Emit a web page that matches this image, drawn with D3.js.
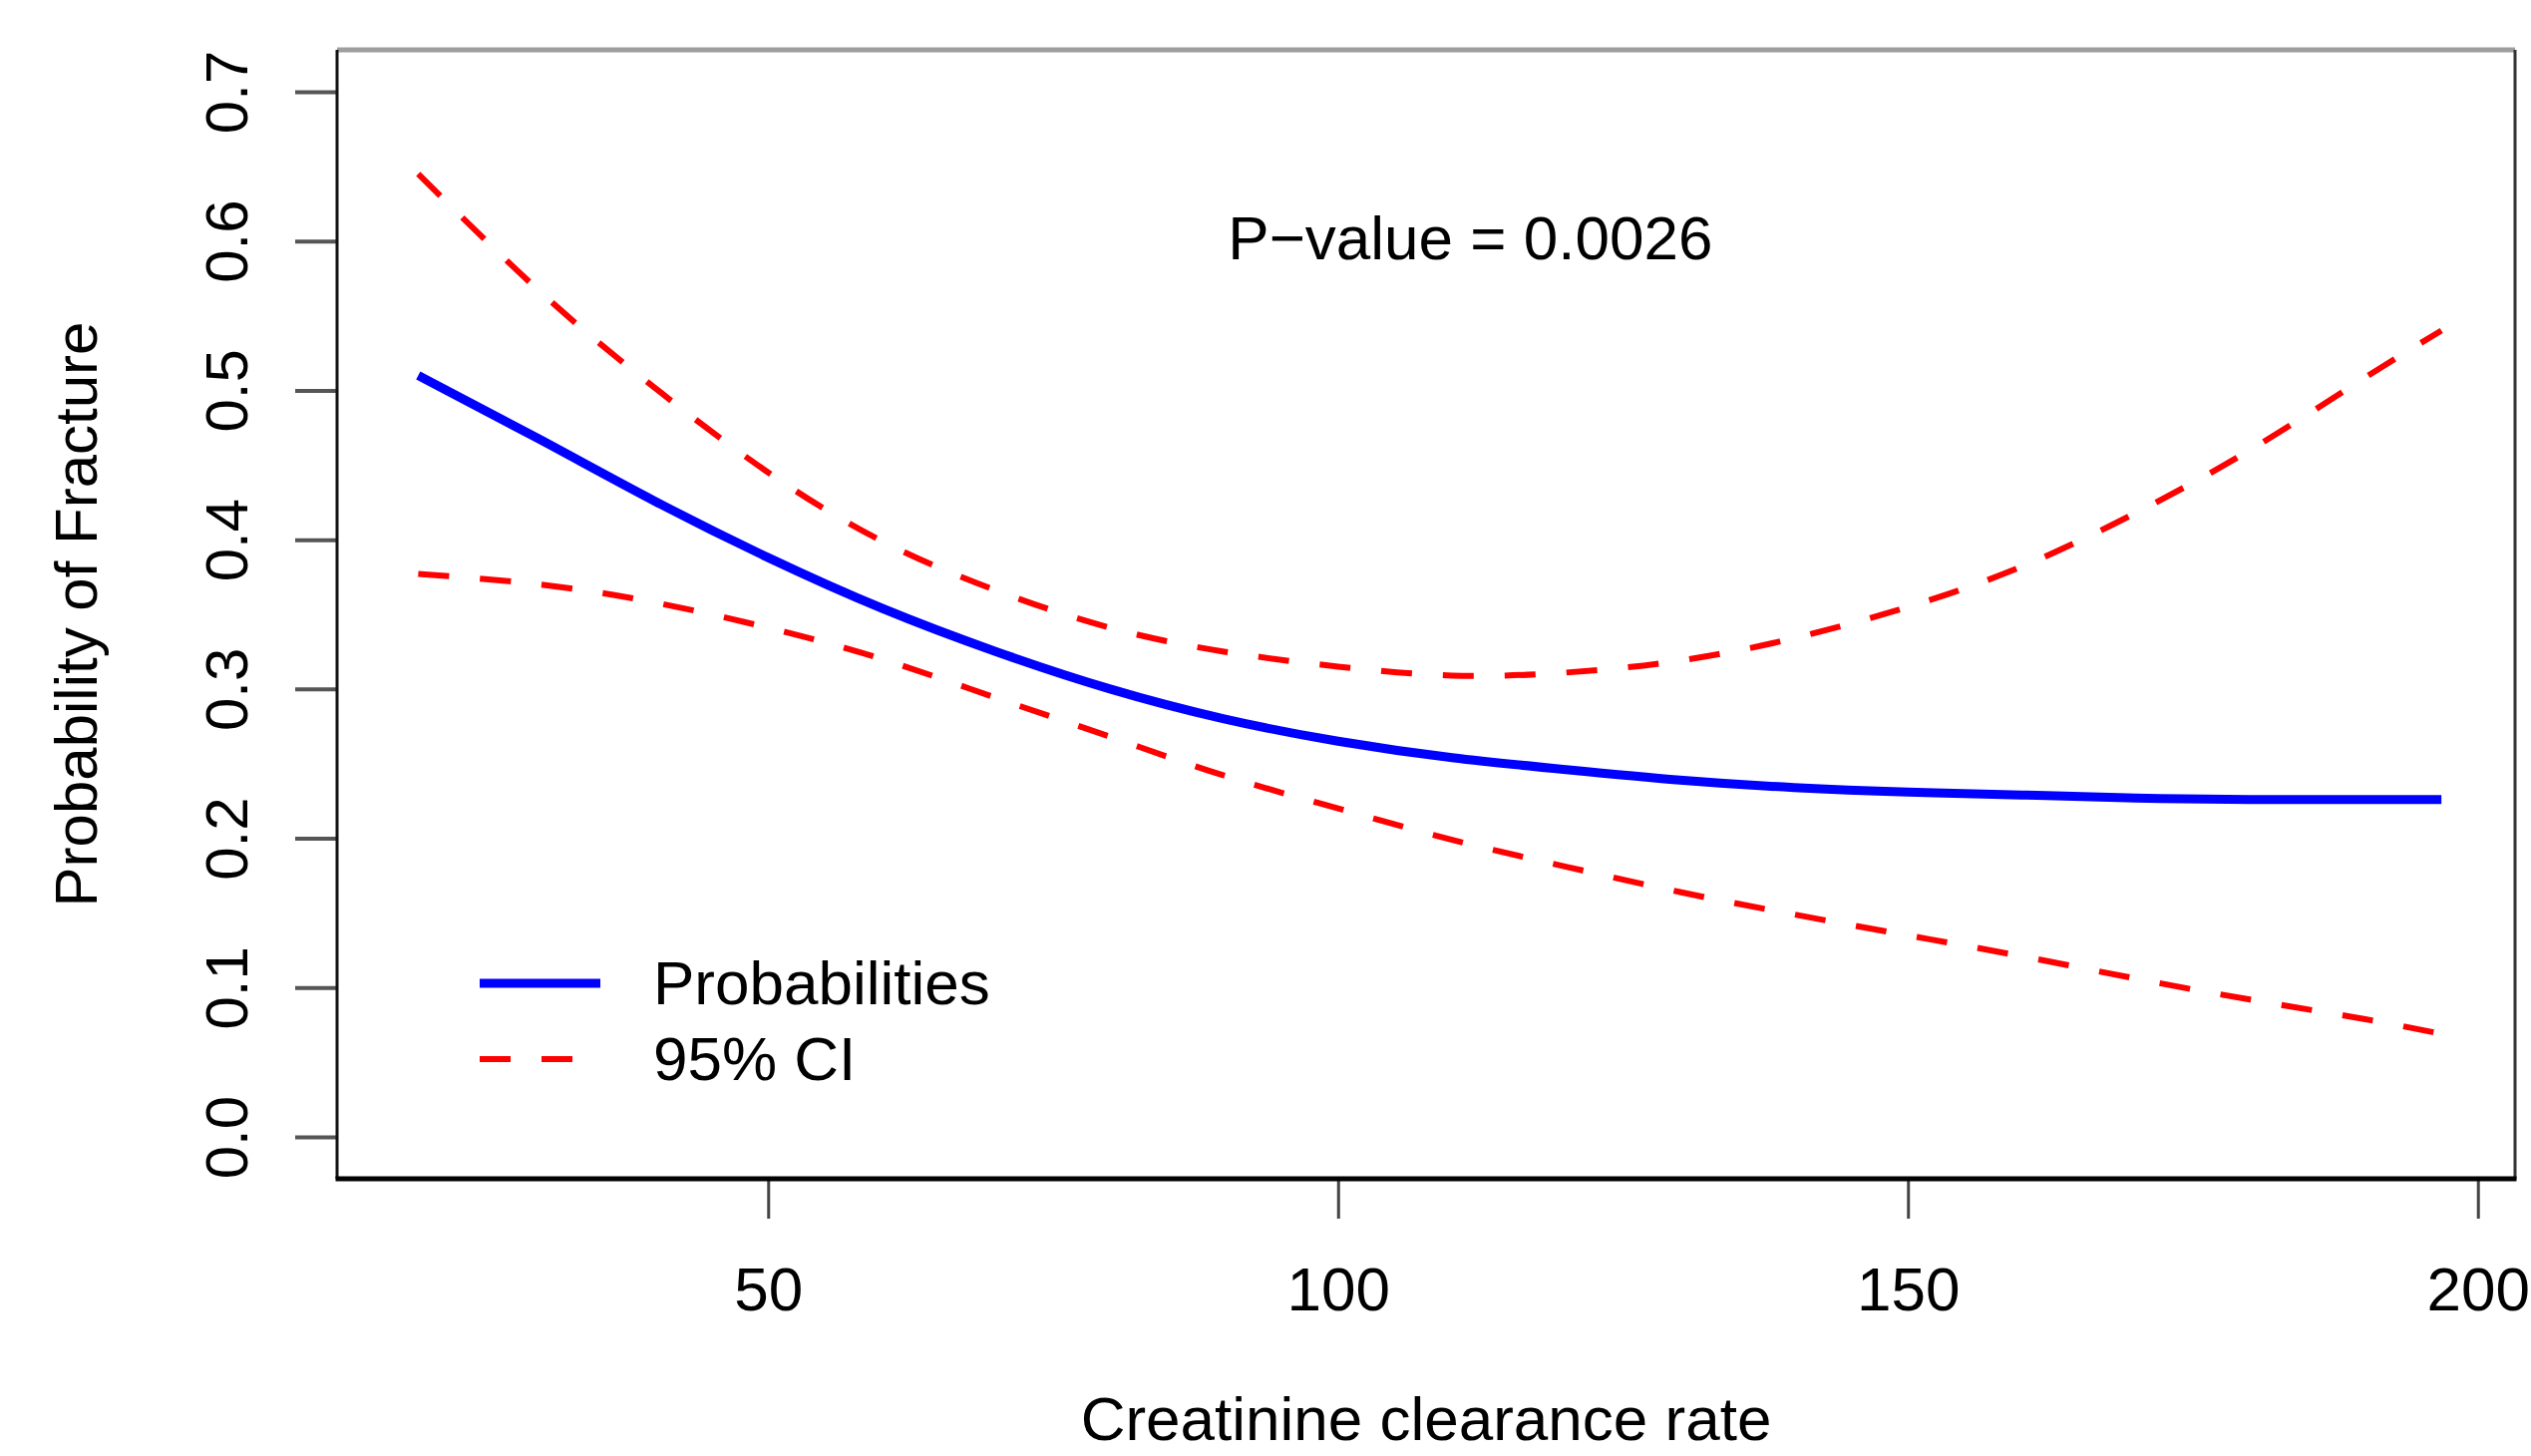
<!DOCTYPE html>
<html>
<head>
<meta charset="utf-8">
<script src="https://cdn.jsdelivr.net/npm/d3@7"></script>
<style>
  html, body { margin: 0; padding: 0; background: #fff; }
  svg { display: block; }
  text { font-family: "Liberation Sans", Arial, Helvetica, sans-serif; fill: #000; }
</style>
</head>
<body>
<svg id="chart" width="2538" height="1460"></svg>
<script>
// ---- data ----
const creatinine = [19.3, 30, 40, 50, 60, 70, 80, 90, 100, 110, 120, 130, 140, 150, 160, 170, 180, 190, 196.8];
const probability = [0.510, 0.467, 0.426, 0.388, 0.354, 0.325, 0.300, 0.280, 0.265, 0.254, 0.246, 0.239, 0.234, 0.231, 0.229, 0.227, 0.226, 0.226, 0.226];
const ciUpper = [0.645, 0.566, 0.502, 0.445, 0.399, 0.366, 0.341, 0.325, 0.315, 0.309, 0.311, 0.319, 0.334, 0.355, 0.382, 0.418, 0.460, 0.508, 0.540];
const ciLower = [0.377, 0.370, 0.358, 0.341, 0.320, 0.294, 0.268, 0.242, 0.220, 0.199, 0.181, 0.164, 0.149, 0.135, 0.121, 0.106, 0.092, 0.079, 0.069];
const xTicks = [50, 100, 150, 200];
const yTicks = [0.0, 0.1, 0.2, 0.3, 0.4, 0.5, 0.6, 0.7];
const yTickLabels = ["0.0", "0.1", "0.2", "0.3", "0.4", "0.5", "0.6", "0.7"];
const legendLabels = ["Probabilities", "95% CI"];
const annotation = "P\u2212value = 0.0026";
const xTitle = "Creatinine clearance rate";
const yTitle = "Probability of Fracture";

// ---- layout ----
const svg = d3.select("#chart");
const plot = { left: 338, right: 2522, top: 50, bottom: 1182 };
const x = d3.scaleLinear().domain([12.18, 203.26]).range([plot.left, plot.right]);
const y = d3.scaleLinear().domain([-0.028, 0.728]).range([plot.bottom, plot.top]);

const blue = "#0000ff", red = "#ff0000";

// curves
const line = (ys) => d3.line()
  .x((d, i) => x(creatinine[i]))
  .y((d) => y(d))
  .curve(d3.curveNatural)(ys);

svg.append("path").attr("d", line(ciUpper))
  .attr("fill", "none").attr("stroke", red).attr("stroke-width", 6)
  .attr("stroke-dasharray", "31 31");
svg.append("path").attr("d", line(ciLower))
  .attr("fill", "none").attr("stroke", red).attr("stroke-width", 6)
  .attr("stroke-dasharray", "31 31");
svg.append("path").attr("d", line(probability))
  .attr("fill", "none").attr("stroke", blue).attr("stroke-width", 9);

// axes
const fontH = 62, fontV = 60;
const yAxis = d3.axisLeft(y).tickValues(yTicks).tickSize(42).tickFormat((d, i) => yTickLabels[i]);
const gy = svg.append("g").attr("transform", `translate(${plot.left},0)`).call(yAxis);
gy.select(".domain").remove();
gy.selectAll(".tick line").attr("stroke", "#555").attr("stroke-width", 4);
gy.selectAll(".tick text")
  .attr("font-size", fontV)
  .attr("x", 0).attr("dy", 0)
  .attr("text-anchor", "middle")
  .attr("transform", "translate(-90,0) rotate(-90)")
  .attr("fill", "#000");

const xAxis = d3.axisBottom(x).tickValues(xTicks).tickSize(40).tickFormat(d3.format("d"));
const gx = svg.append("g").attr("transform", `translate(0,${plot.bottom})`).call(xAxis);
gx.select(".domain").remove();
gx.selectAll(".tick line").attr("stroke", "#444").attr("stroke-width", 3);
gx.selectAll(".tick text")
  .attr("font-size", fontH)
  .attr("y", 132).attr("dy", 0)
  .attr("fill", "#000");

// box
svg.append("line").attr("x1", plot.left).attr("x2", plot.right).attr("y1", plot.top).attr("y2", plot.top)
  .attr("stroke", "#9e9e9e").attr("stroke-width", 5);
svg.append("line").attr("x1", plot.right).attr("x2", plot.right).attr("y1", plot.top).attr("y2", plot.bottom)
  .attr("stroke", "#333").attr("stroke-width", 3);
svg.append("line").attr("x1", plot.left).attr("x2", plot.left).attr("y1", plot.top).attr("y2", plot.bottom)
  .attr("stroke", "#111").attr("stroke-width", 3);
svg.append("line").attr("x1", plot.left - 1.5).attr("x2", plot.right + 1.5).attr("y1", plot.bottom).attr("y2", plot.bottom)
  .attr("stroke", "#000").attr("stroke-width", 5);

// titles
svg.append("text").attr("x", (plot.left + plot.right) / 2).attr("y", 1444)
  .attr("text-anchor", "middle").attr("font-size", fontH).text(xTitle);
svg.append("text")
  .attr("transform", `translate(97,${(plot.top + plot.bottom) / 2}) rotate(-90)`)
  .attr("text-anchor", "middle").attr("font-size", fontV).text(yTitle);

// annotation
svg.append("text").attr("x", x(111.6)).attr("y", 260)
  .attr("text-anchor", "middle").attr("font-size", fontH).text(annotation);

// legend
const legend = svg.append("g");
const lgX0 = 481, lgX1 = 602, lgY = [986, 1062], lgTextX = 655;
legend.append("line").attr("x1", lgX0).attr("x2", lgX1).attr("y1", lgY[0]).attr("y2", lgY[0])
  .attr("stroke", blue).attr("stroke-width", 9);
legend.append("line").attr("x1", lgX0).attr("x2", lgX1).attr("y1", lgY[1]).attr("y2", lgY[1])
  .attr("stroke", red).attr("stroke-width", 6).attr("stroke-dasharray", "31 31");
legendLabels.forEach((t, i) => {
  legend.append("text").attr("x", lgTextX).attr("y", lgY[i] + 21)
    .attr("font-size", fontH).text(t);
});
</script>
</body>
</html>
